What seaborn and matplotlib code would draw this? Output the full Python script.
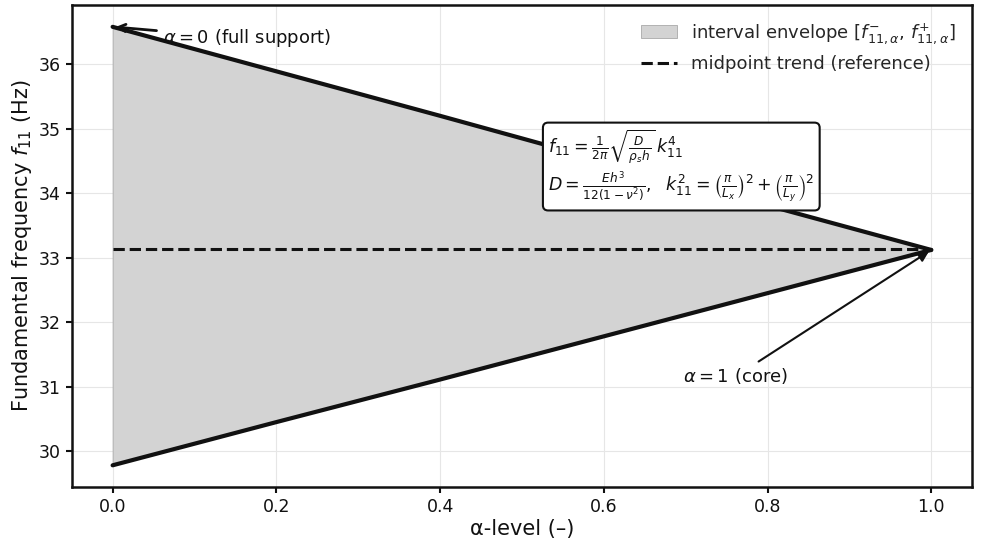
import numpy as np
import pandas as pd
import matplotlib
matplotlib.use("Agg")
import matplotlib.pyplot as plt
import seaborn as sns
from matplotlib.patches import Patch
from matplotlib.lines import Line2D

alpha_levels = [0.0, 0.2, 0.4, 0.6, 0.8, 1.0]
f_upper = [36.58, 35.89, 35.20, 34.50, 33.81, 33.12]
f_lower = [29.78, 30.45, 31.11, 31.78, 32.45, 33.12]
f_mid = [33.13, 33.13, 33.13, 33.13, 33.13, 33.13]

df = pd.DataFrame({"alpha": alpha_levels, "upper": f_upper, "lower": f_lower, "mid": f_mid})

sns.set_theme(style="whitegrid")
plt.rcParams["font.family"] = ["DejaVu Sans"]

fig = plt.figure(figsize=(9.82, 5.45), dpi=100)
ax = fig.add_axes([0.073, 0.106, 0.917, 0.885])

ax.fill_between(df["alpha"], df["lower"], df["upper"], facecolor="lightgray", edgecolor="darkgray", linewidth=0.6)
sns.lineplot(data=df, x="alpha", y="upper", color="#111111", linewidth=3, ax=ax)
sns.lineplot(data=df, x="alpha", y="lower", color="#111111", linewidth=3, ax=ax)
sns.lineplot(data=df, x="alpha", y="mid", color="#111111", linewidth=2.2, linestyle="--", ax=ax)

ax.set_xlim(-0.05, 1.05)
ax.set_ylim(29.44, 36.92)
ax.set_xticks([0.0, 0.2, 0.4, 0.6, 0.8, 1.0])
ax.set_yticks([30, 31, 32, 33, 34, 35, 36])
ax.tick_params(axis="both", labelsize=12.5, colors="#111111", length=4.5, width=1.5, direction="out", left=True, bottom=True)
ax.grid(True, color="#e6e6e6", linewidth=0.8)
ax.set_facecolor("white")
for s in ax.spines.values():
    s.set_color("#111111")
    s.set_linewidth(1.8)

ax.set_xlabel("α-level (–)", fontsize=15, color="#111111", labelpad=2)
ax.set_ylabel("Fundamental frequency $f_{11}$ (Hz)", fontsize=15, color="#111111", labelpad=3)

ax.annotate(r"$\alpha = 0$ (full support)", xy=(alpha_levels[0], f_upper[0]), xytext=(0.061, 36.40),
            fontsize=13, va="center", ha="left", color="#111111",
            arrowprops=dict(arrowstyle="->", color="#111111", lw=2))
ax.annotate(r"$\alpha = 1$ (core)", xy=(alpha_levels[-1], f_upper[-1]), xytext=(0.697, 31.16),
            fontsize=13, va="center", ha="left", color="#111111",
            arrowprops=dict(arrowstyle="-|>", color="#111111", lw=1.5, mutation_scale=15))

formula = (r"$f_{11} = \frac{1}{2\pi}\sqrt{\frac{D}{\rho_s h}}\,k_{11}^{4}$" + "\n" +
           r"$D = \frac{E h^3}{12(1-\nu^2)},\ \ k_{11}^2 = \left(\frac{\pi}{L_x}\right)^2 + \left(\frac{\pi}{L_y}\right)^2$")
ax.text(0.532, 34.42, formula, fontsize=12.5, va="center", ha="left", color="#111111",
        bbox=dict(boxstyle="round,pad=0.3", facecolor="white", edgecolor="#111111", linewidth=1.5), zorder=5)

handles = [Patch(facecolor="lightgray", edgecolor="darkgray", linewidth=0.6),
           Line2D([0], [0], color="#111111", linewidth=2.2, linestyle="--")]
labels = [r"interval envelope $[f_{11,\alpha}^{-},\, f_{11,\alpha}^{+}]$", "midpoint trend (reference)"]
ax.legend(handles, labels, loc="upper right", frameon=False, fontsize=13)

fig.savefig("out.png", dpi=100)
